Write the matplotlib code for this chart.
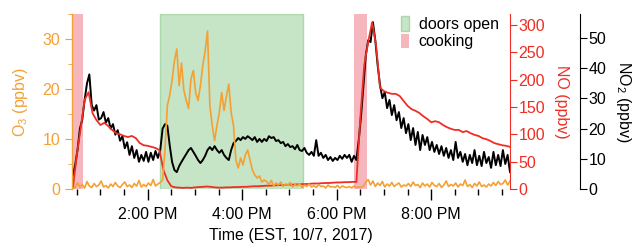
# O3 / NO / NO2 time series in a kitchen, 7 Oct 2017
import numpy as np
import pandas as pd
import matplotlib
matplotlib.use("Agg")
import matplotlib.pyplot as plt
import matplotlib.dates as mdates
from matplotlib.patches import Patch

plt.rcParams['font.family'] = ['Liberation Sans', 'DejaVu Sans']
plt.rcParams['mathtext.fontset'] = 'custom'
plt.rcParams['mathtext.rm'] = 'Liberation Sans'
plt.rcParams['font.size'] = 11.5

c_o3 = '#F5A033'
c_no = '#EE2E24'
c_no2 = 'black'

# NO2 (ppbv), 3-min samples starting 12:25
no2 = [4.6, 8, 13, 20, 23, 29.5, 35, 38, 27.8, 26,
       27.8, 23, 23.5, 25.5, 22, 23.5, 20, 21.5, 18, 19.5,
       16, 17.5, 13.5, 15.5, 11.3, 14.2, 10.3, 12.9, 9, 11.3,
       9.3, 12.3, 9, 12, 9.6, 12.6, 10.3, 12.9, 20, 21.5,
       21, 14.5, 9, 6.3, 5.6, 7.6, 9, 10.3, 11.6, 12.9,
       13.6, 12.3, 11, 9.6, 8.6, 9.6, 11, 12.9, 13.9, 12.9,
       14.2, 12.9, 12, 12.9, 11.3, 10.3, 9.6, 12.9, 15.2, 15.9,
       16.9, 16.2, 17.2, 16.6, 17.5, 16.9, 16.2, 17.2, 15.6, 16.6,
       15.6, 16.6, 15.9, 17.5, 16.9, 17.2, 15.9, 16.2, 15.2, 15.6,
       14.2, 14.9, 13.9, 14.2, 13.2, 14.6, 12.9, 12.6, 13.6, 12,
       11.3, 12.3, 11, 16.2, 11, 12, 10.3, 11.3, 9.6, 10.6,
       9.3, 10.3, 9.6, 11, 10, 11.3, 10.3, 11.3, 9, 11,
       9.6, 16.2, 24.5, 34.4, 44.4, 49.3, 48.7, 55.3, 49.3, 41,
       34.4, 30.1, 32.1, 26.8, 29.5, 24.5, 27.8, 22.8, 25.5, 20.2,
       23.5, 18.5, 21.5, 16.2, 20.2, 14.6, 18.9, 12.9, 17.9, 14.6,
       17.2, 12.9, 15.6, 12.3, 14.6, 11.6, 14.2, 11, 13.6, 10.3,
       12.9, 9.6, 15.6, 10.3, 12.3, 9, 11.6, 7.9, 11.3, 8.6,
       12.9, 7.9, 11, 7.6, 12.3, 8.6, 10.6, 7, 12.3, 7.9,
       11.3, 7.6, 12.9, 8.3, 11.3, 5.6]

# O3 (ppbv), 3-min samples starting 12:25
o3 = [0, 0.3, 1.2, 0.4, 0.9, 0.2, 1.5, 0.6, 0.3, 1.1,
      0.5, 0.8, 1.6, 0.4, 0.7, 0.2, 1.0, 0.5, 1.3, 0.6,
      0.3, 0.9, 1.4, 0.5, 0.8, 0.3, 1.1, 0.6, 1.7, 0.4,
      0.9, 0.5, 1.2, 0.7, 1.9, 0.6, 1.0,
      1.3, 1.8, 7.8, 16.7, 18.7, 21.7, 25.6, 28, 20.7, 25.2,
      19.7, 17.7, 16.1, 22, 23.7, 19.3, 17.7, 20.7, 24.7, 27.6,
      31.6, 16.7, 12.7, 9.7, 12.7, 15.3, 19.3, 15.7, 18.5, 21,
      15.3, 12.7, 5.8, 4.2, 6.2, 4.8, 6.8, 7.8, 5.8, 3.8,
      2.8, 2.2, 2.6, 1.4, 1.8,
      1.5, 0.9, 1.7, 0.6, 1.2, 0.8, 1.4, 0.5, 1.0, 0.7,
      1.3, 0.4, 0.9, 0.6, 1.1, 0.3, 0.8, 0.5, 1.0, 0.4,
      0.7, 0.3, 0.9, 0.5, 0.6, 0.2, 0.8, 0.4, 0.5, 0.3,
      0.7, 0.2, 0.6, 0.4, 0.3, 0.5, 0.2, 0.6, 0.3, 0.4,
      0.3, 0.6, 1.4, 1.9, 0.8, 1.6, 0.5, 1.2, 0.7, 1.5,
      0.4, 1.0, 0.6, 1.3, 0.5, 0.9, 1.2, 0.4, 0.8, 0.6,
      1.1, 0.5, 1.4, 0.7, 0.9, 0.3, 1.2, 0.6, 1.0, 0.4,
      1.3, 0.7, 0.5, 1.1, 0.3, 0.8, 1.6, 0.5, 0.9, 0.6,
      1.2, 0.4, 1.0, 0.7, 1.8, 0.5, 0.9, 0.3, 1.1, 0.6,
      1.4, 0.5, 0.8, 0.4, 1.0, 0.6, 1.3, 0.7, 1.5, 0.9,
      1.1, 1.8, 0.8, 1.6]

# NO (ppbv), 5-min samples starting 12:25
no = [0, 62, 111, 163, 177, 139, 126, 117, 121, 115,
      108, 102, 100, 97, 95, 97, 93, 84, 80, 79,
      77, 75, 71, 35, 16, 5, 3, 2.5, 2, 2.5,
      2, 3, 3.5, 4, 4.5, 4, 3, 2.5, 2.5, 3,
      3, 3.5, 3.5, 4, 4, 4.5, 5, 5, 5.5, 6,
      6, 6.5, 7, 7, 7.5, 8, 8, 8.5, 9, 9,
      9.5, 10, 10, 10.5, 11, 11, 11.5, 12, 12, 12.5,
      12.5, 13, 13, 130, 227, 269, 305, 263, 185, 179,
      176, 174, 174, 170, 161, 152, 146, 143, 139, 133,
      128, 122, 124, 122, 117, 113, 110, 108, 108, 104,
      106, 102, 99, 97, 93, 91, 88, 84, 82, 80,
      79, 77]

cooking = [("12:20", "12:38"), ("18:22", "18:38")]
doors_open = ("14:16", "17:17")

day = "2017-10-07 "
t0 = pd.Timestamp(day + "12:25")
t_fast = t0 + pd.to_timedelta(np.arange(len(no2)) * 3, unit="min")
t_slow = t0 + pd.to_timedelta(np.arange(len(no)) * 5, unit="min")

fig = plt.figure(figsize=(6.34, 2.44), dpi=100)
ax = fig.add_axes([0.1136, 0.2254, 0.6908, 0.7172])
ax2 = ax.twinx()
ax3 = ax.twinx()

# stacking: shading + NO2 at the back, NO, then O3 on top
ax3.set_zorder(1)
ax2.set_zorder(2)
ax.set_zorder(3)
ax.patch.set_visible(False)
ax2.patch.set_visible(False)

for a, b in cooking:
    ax3.axvspan(pd.Timestamp(day + a), pd.Timestamp(day + b),
                color='#F5B6BE', lw=0)
ax3.axvspan(pd.Timestamp(day + doors_open[0]), pd.Timestamp(day + doors_open[1]),
            facecolor='#C6E4C6', edgecolor='#A9D8A9', lw=1)

ax3.plot(t_fast, no2, color=c_no2, lw=1.4)
ax2.plot(t_slow, no, color=c_no, lw=1.3)
ax.plot(t_fast, o3, color=c_o3, lw=1.2)

ax.set_xlim(pd.Timestamp(day + "12:24"), pd.Timestamp(day + "21:40"))
ax.set_ylim(0, 35)
ax2.set_ylim(0, 320)
ax3.set_ylim(0, 58)

# x axis
ax.xaxis.set_major_locator(mdates.HourLocator(byhour=[14, 16, 18, 20]))
ax.xaxis.set_minor_locator(mdates.MinuteLocator(byminute=[0, 30]))
ax.xaxis.set_major_formatter(mdates.DateFormatter('%-I:%M %p'))
ax.tick_params(axis='x', which='major', length=8, width=1, pad=5)
ax.tick_params(axis='x', which='minor', length=4, width=1)
ax.set_xlabel('Time (EST, 10/7, 2017)', labelpad=4)

for a in (ax, ax2, ax3):
    for s in ('top', 'bottom'):
        a.spines[s].set_visible(False)

# O3 axis (left)
ax.spines['right'].set_visible(False)
ax.spines['left'].set_color(c_o3)
ax.spines['left'].set_linewidth(1)
ax.set_yticks([0, 10, 20, 30])
ax.set_yticks([5, 15, 25, 35], minor=True)
ax.tick_params(axis='y', which='both', colors=c_o3, labelcolor=c_o3)
ax.tick_params(axis='y', which='major', length=5)
ax.tick_params(axis='y', which='minor', length=3)

# NO axis (right)
ax2.spines['left'].set_visible(False)
ax2.spines['right'].set_color(c_no)
ax2.set_yticks(np.arange(0, 301, 50))
ax2.tick_params(axis='y', colors=c_no, labelcolor=c_no, length=5, pad=1)

# NO2 axis (offset right)
ax3.spines['left'].set_visible(False)
ax3.spines['right'].set_position(('axes', 1.16))
ax3.set_yticks(np.arange(0, 51, 10))
ax3.tick_params(axis='y', colors='black', length=5, pad=1)

fig.text(0.032, 0.582, r'O$_3$ (ppbv)', color=c_o3, rotation=90,
         ha='center', va='center')
fig.text(0.886, 0.584, 'NO (ppbv)', color=c_no, rotation=270,
         ha='center', va='center')
fig.text(0.983, 0.582, r'NO$_2$ (ppbv)', color='black', rotation=270,
         ha='center', va='center')

handles = [Patch(facecolor='#C6E4C6', edgecolor='#A9D8A9', label='doors open'),
           Patch(facecolor='#F5B6BE', edgecolor='none', label='cooking')]
ax.legend(handles=handles, loc='upper right', bbox_to_anchor=(1.0, 1.05),
          frameon=False, handlelength=0.5, handleheight=1.0,
          handletextpad=0.6, labelspacing=0.1, borderpad=0.2)

fig.savefig('out.png', dpi=100)
